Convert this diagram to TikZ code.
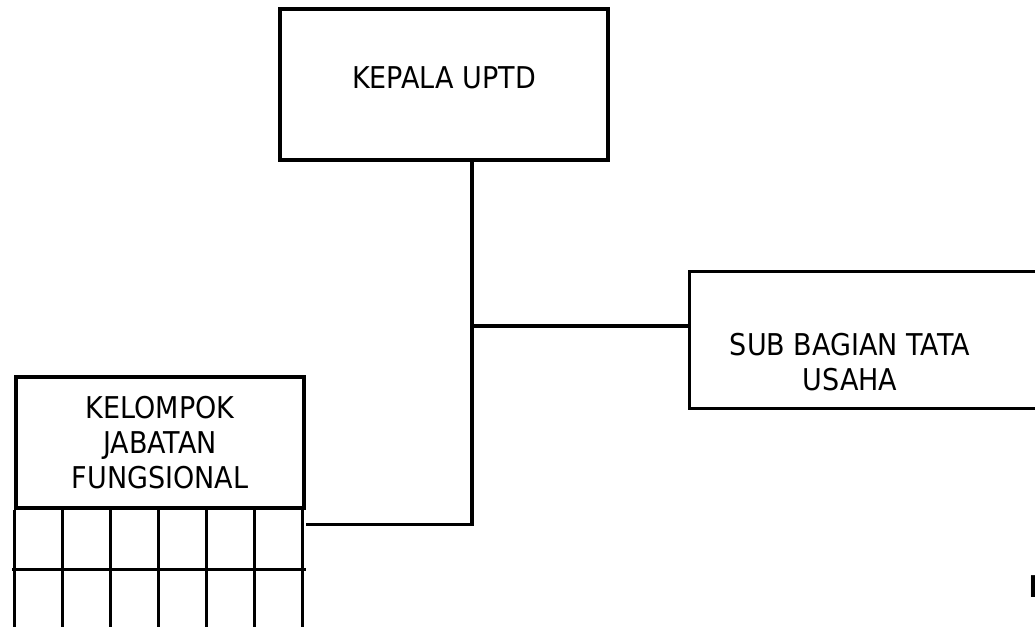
\documentclass[tikz,border=0pt]{standalone}
\usepackage{fontspec}
\setmainfont{DejaVu Sans}[FakeStretch=0.9]
\usetikzlibrary{positioning,calc}

\begin{document}
\begin{tikzpicture}[
  x=1pt, y=-1pt,
  box/.style={draw, line width=3.3pt, inner sep=0pt},
  caption/.style={align=center, inner sep=0pt, font=\fontsize{30}{35}\selectfont},
  link/.style={line width=3.3pt}
]
\useasboundingbox (0,0) rectangle (1035,626);

% boxes
\node[box, minimum width=328pt, minimum height=151pt] (kepala) at (444,84.5) {};
\node[caption] (kepalatext) at (444,78) {KEPALA UPTD};
\node[box, anchor=north west, minimum width=370pt, minimum height=137pt] (sub) at (688,270) {};
\node[caption] (subtext) at (850,362) {SUB BAGIAN TATA\\USAHA};
\node[box, caption, minimum width=288pt, minimum height=131pt] (kelompok) at (160,442.5) {KELOMPOK\\JABATAN\\FUNGSIONAL};

% slots under the functional group
\foreach \col in {0,...,6}
  \draw[link] ($(kelompok.south west)+(48*\col,0)$) -- ++(0,135);
\draw[link] ($(kelompok.south west)+(-2,60)$) -- ($(kelompok.south east)+(0,60)$);

% connectors
\coordinate (trunk) at (472,326);
\coordinate (slot) at ($(kelompok.south east)+(0,15)$);
\draw[link] (kepala.south -| trunk) -- (trunk |- slot) -- (slot);
\draw[link] (trunk) -- (trunk -| sub.west);

\node[caption, anchor=base west] (cut) at (1028.5,597) {\textbf{B}};
\end{tikzpicture}
\end{document}
